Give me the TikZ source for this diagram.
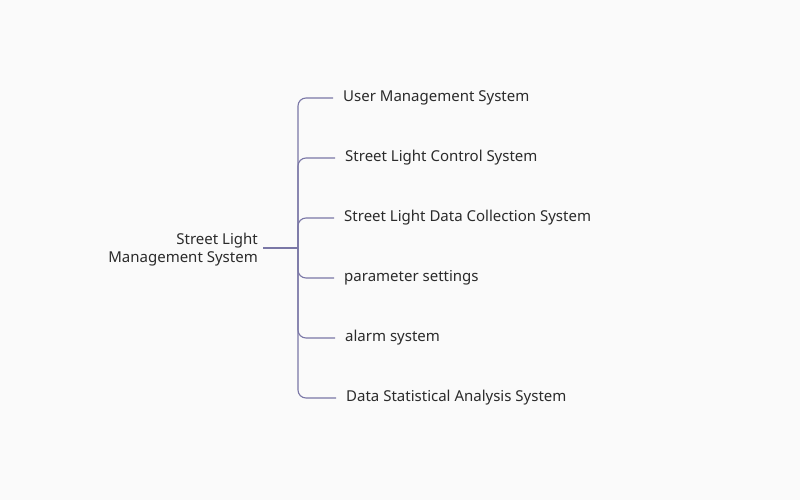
\documentclass[tikz,border=0pt]{standalone}
\usepackage{fontspec}
\setmainfont{Noto Sans}
\definecolor{bg}{HTML}{FAFAFA}
\definecolor{ln}{HTML}{7A77A6}
\definecolor{tx}{HTML}{2B2B2B}
\begin{document}
\begin{tikzpicture}[x=1pt,y=-1pt,
  lbl/.style={inner sep=0pt,anchor=west,text=tx,font=\fontsize{15}{18}\selectfont},
  conn/.style={draw=ln,line width=1.1pt,rounded corners=8pt}]
\fill[bg] (0,0) rectangle (800,500);
\useasboundingbox (0,0) rectangle (800,500);
\node[inner sep=0pt,anchor=east,align=right,text=tx,font=\fontsize{15}{18}\selectfont] (root) at (258,250) {Street Light\\Management System};
\coordinate (hub) at (298,248);
\node[lbl] (c1) at (343,98) {User Management System};
\node[lbl] (c2) at (345,158) {Street Light Control System};
\node[lbl] (c3) at (344,218) {Street Light Data Collection System};
\node[lbl] (c4) at (344,278) {parameter settings};
\node[lbl] (c5) at (345,338) {alarm system};
\node[lbl] (c6) at (346,398) {Data Statistical Analysis System};
\draw[draw=ln,line width=1.1pt] ([xshift=5pt]root.east |- hub) -- (hub);
\foreach \c in {c1,c2,c3,c4,c5,c6}
  \draw[conn] (hub) |- ([xshift=-10pt]\c.west);
\end{tikzpicture}
\end{document}
